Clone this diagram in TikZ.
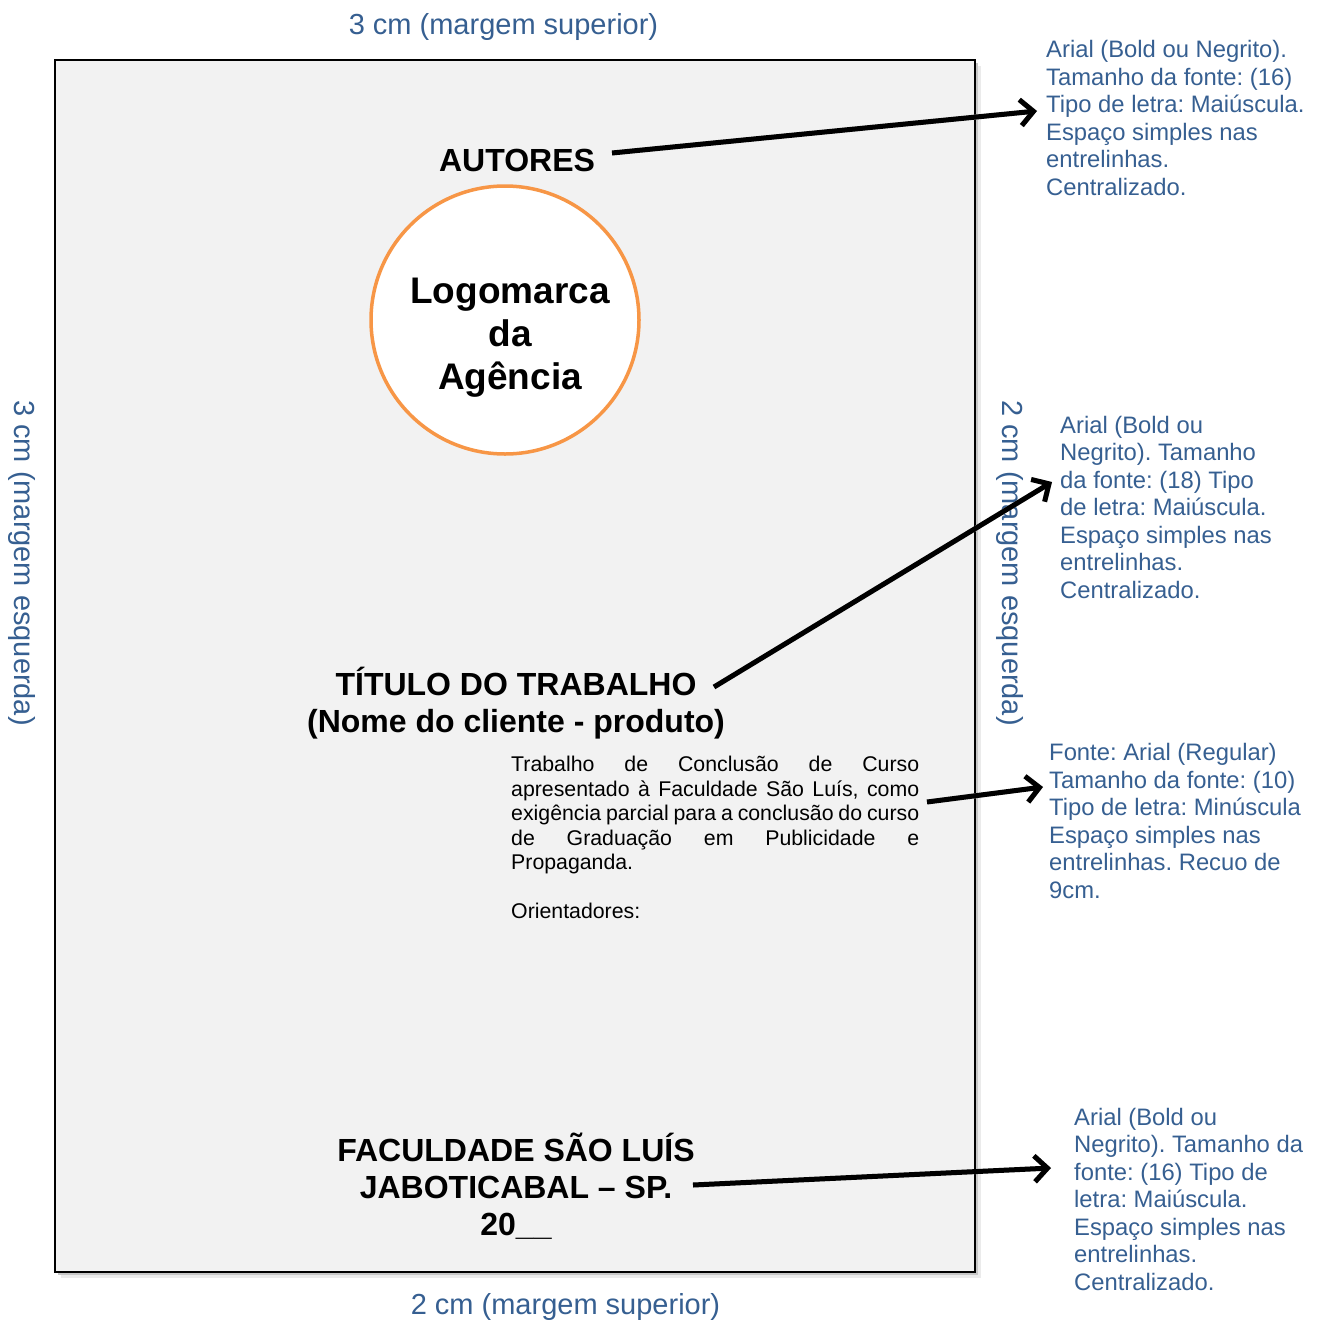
\documentclass[tikz,border=0pt]{standalone}
\usepackage{fontspec}
\setmainfont{Liberation Sans}
\usetikzlibrary{arrows.meta}
\definecolor{noteblue}{HTML}{365F91}
\definecolor{logoorange}{HTML}{F79646}
\definecolor{pagegray}{HTML}{F2F2F2}
\frenchspacing
\begin{document}
\begin{tikzpicture}[x=1pt,y=-1pt,
  note/.style={text=noteblue, font=\fontsize{23.8}{27.5}\selectfont, align=left, inner sep=0pt, anchor=base west},
  marginlabel/.style={text=noteblue, font=\fontsize{29}{33}\selectfont, inner sep=0pt},
  heading/.style={font=\fontsize{32}{37}\selectfont\bfseries, align=center, inner sep=0pt, anchor=base},
  pointer/.style={line width=5pt, -{Straight Barb[length=13pt,width=26pt]}},
  pshadow/.style={line width=5pt, black!18, -{Straight Barb[length=13pt,width=26pt]}, shift={(2,3)}},
]
\useasboundingbox (0,0) rectangle (1326,1320);
% page with shadow
\fill[black!8] (61,66) rectangle (981,1278);
\fill[black!22] (58,63) rectangle (978,1275);
\draw[line width=2pt, fill=pagegray] (55,60) rectangle (975,1272);

% margin labels
\node[marginlabel, anchor=base] (mtop) at (503.5,34.5) {3 cm (margem superior)};
\node[marginlabel, anchor=base] (mbottom) at (565.5,1314.5) {2 cm (margem superior)};
\node[marginlabel, rotate=-90] (mleft) at (22,563) {3 cm (margem esquerda)};
\node[marginlabel, rotate=-90] (mright) at (1010,563) {2 cm (margem esquerda)};

% headings (base anchor = baseline of the last line)
\node[heading] (autores) at (517,171.5) {AUTORES};
\node[circle, draw=logoorange, line width=3.5pt, fill=white, minimum size=268pt, inner sep=0pt] (logo) at (505,320) {};
\node[font=\fontsize{37}{43}\selectfont\bfseries, align=center, anchor=base, inner sep=0pt] (logotext) at (510,389) {Logomarca\\da\\Agência};
\node[heading] (titulo) at (516,732.5) {TÍTULO DO TRABALHO\\(Nome do cliente - produto)};
\node[heading] (faculdade) at (516,1235.5) {FACULDADE SÃO LUÍS\\JABOTICABAL – SP.\\20\_\_};

% body text
\node[inner sep=0pt, anchor=base west, font=\fontsize{21.3}{24.5}\selectfont] (body) at (511,771.5) {\begin{minipage}[t]{408pt}\hyphenpenalty=10000 \tolerance=10000 \emergencystretch=20pt
Trabalho de Conclusão de Curso\linebreak
apresentado à Faculdade São Luís, como\linebreak
exigência parcial para a conclusão do curso\linebreak
de Graduação em Publicidade e\linebreak
Propaganda.\par
\vspace{24.5pt}
Orientadores:\end{minipage}};

% notes
\node[note] (n1) at (1046,195) {Arial (Bold ou Negrito).\\Tamanho da fonte: (16)\\Tipo de letra: Maiúscula.\\Espaço simples nas\\entrelinhas.\\Centralizado.};
\node[note] (n2) at (1060,598) {Arial (Bold ou\\Negrito). Tamanho\\da fonte: (18) Tipo\\de letra: Maiúscula.\\Espaço simples nas\\entrelinhas.\\Centralizado.};
\node[note] (n3) at (1049,898) {Fonte: Arial (Regular)\\Tamanho da fonte: (10)\\Tipo de letra: Minúscula\\Espaço simples nas\\entrelinhas. Recuo de\\9cm.};
\node[note] (n4) at (1074,1290) {Arial (Bold ou\\Negrito). Tamanho da\\fonte: (16) Tipo de\\letra: Maiúscula.\\Espaço simples nas\\entrelinhas.\\Centralizado.};

% arrows
\coordinate (a1s) at (612,153); \coordinate (a1e) at (1037,111);
\coordinate (a2s) at (714,687); \coordinate (a2e) at (1052,482);
\coordinate (a3s) at (927,802); \coordinate (a3e) at (1043,787);
\coordinate (a4s) at (693,1185); \coordinate (a4e) at (1051,1168);
\foreach \i in {1,2,3,4} {
  \draw[pshadow] (a\i s) -- (a\i e);
  \draw[pointer] (a\i s) -- (a\i e);
}
\end{tikzpicture}
\end{document}
